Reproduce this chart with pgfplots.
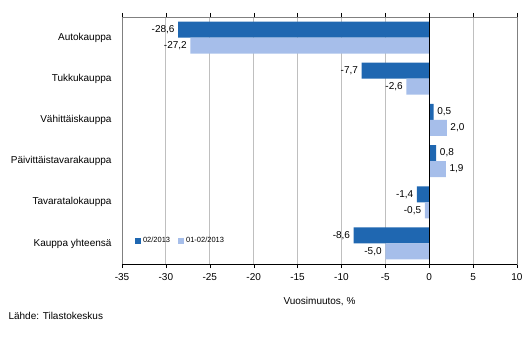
\documentclass[border=0pt]{standalone}
\usepackage{pgfplots}
\pgfplotsset{compat=1.18}
\usepackage{fontspec}
\setmainfont{Liberation Sans}
\definecolor{darkb}{HTML}{1F67B1}
\definecolor{lightb}{HTML}{A6BEEA}
\definecolor{gridg}{HTML}{BFBFBF}
\begin{document}
\begin{tikzpicture}[x=1bp,y=1bp]
\begin{axis}[
  at={(0,0)}, anchor=south west,
  scale only axis, width=395bp, height=247bp,
  xbar, bar width=16bp,
  xmin=-35, xmax=10, ymin=-0.5, ymax=5.5,
  xtick={-35,-30,...,10},
  ytick={0,1,2,3,4,5},
  yticklabels={Kauppa yhteensä,Tavaratalokauppa,Päivittäistavarakauppa,Vähittäiskauppa,Tukkukauppa,Autokauppa},
  xmajorgrids, major grid style={gridg, line width=0.8pt},
  axis line style={gray, line width=0.8pt},
  xtick style={black}, ytick style={draw=none},
  tick align=outside, major tick length=4bp,
  xticklabel style={font=\fontsize{10bp}{12bp}\selectfont, yshift=-2bp},
  yticklabel style={font=\fontsize{10bp}{12bp}\selectfont, xshift=-3bp},
  /pgf/number format/assume math mode=true,
  xlabel={Vuosimuutos, \%},
  xlabel style={font=\fontsize{10bp}{12bp}\selectfont, yshift=-10bp},
  nodes near coords,
  nodes near coords style={font=\fontsize{10bp}{12bp}\selectfont, inner sep=3.5bp,
    /pgf/number format/.cd, fixed, fixed zerofill, precision=1, use comma, assume math mode=true},
  legend style={at={(0.025,0.093)}, anchor=west, draw=none, fill=none,
    font=\fontsize{7.5bp}{9bp}\selectfont, legend columns=2,
    /tikz/every even column/.append style={column sep=6bp}},
  legend image code/.code={\fill[#1] (0bp,-3bp) rectangle (6bp,3bp);},
  clip=false,
]
\addplot[fill=darkb, draw=none, bar shift=8bp] coordinates {
  (-8.6,0) (-1.4,1) (0.8,2) (0.5,3) (-7.7,4) (-28.6,5)};
\addplot[fill=lightb, draw=none, bar shift=-8bp] coordinates {
  (-5.0,0) (-0.5,1) (1.9,2) (2.0,3) (-2.6,4) (-27.2,5)};
\legend{02/2013,01-02/2013}
\draw[black, line width=0.8pt] (axis cs:0,-0.5) -- (axis cs:0,5.5);
\draw[black, line width=0.8pt] (axis cs:-35,-0.5) -- (axis cs:10,-0.5);
\end{axis}
\node[anchor=west, font=\fontsize{10bp}{12bp}\selectfont] at (-117bp,-52bp) {Lähde: Tilastokeskus};
\path (-122bp,-94bp) rectangle (410bp,264bp);
\end{tikzpicture}
\end{document}
